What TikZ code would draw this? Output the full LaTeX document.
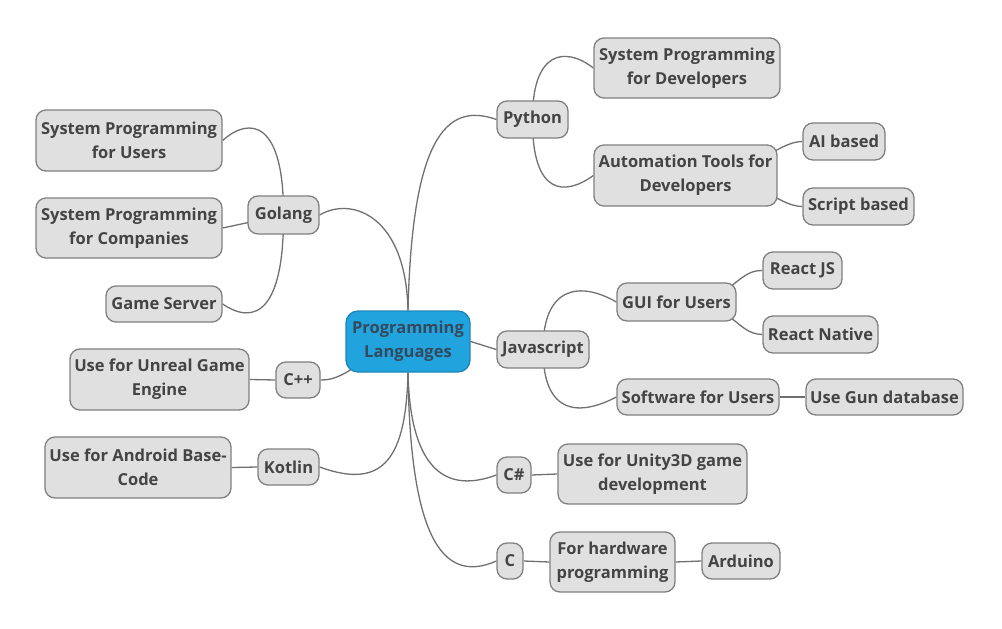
\documentclass[tikz,border=0pt]{standalone}
\usepackage{fontspec}
\setmainfont{Open Sans}
\usetikzlibrary{positioning}
\definecolor{boxfill}{HTML}{E0E0E0}
\definecolor{boxdraw}{HTML}{808080}
\definecolor{txt}{HTML}{444444}
\definecolor{linecol}{HTML}{707070}
\definecolor{mainfill}{HTML}{21A4DD}
\definecolor{maindraw}{HTML}{1F85B8}
\definecolor{maintxt}{HTML}{34495E}
\pgfdeclarelayer{bg}
\pgfsetlayers{bg,main}
\tikzset{
  topic/.style={draw=boxdraw, fill=boxfill, rounded corners=10pt, line width=1.3pt,
    font=\fontsize{16.5}{24}\selectfont\bfseries, text=txt, align=center,
    inner sep=0pt, minimum height=37pt},
  root/.style={topic, draw=maindraw, fill=mainfill, text=maintxt, rounded corners=12pt},
  conn/.style={draw=linecol, line width=1.3pt}
}
\begin{document}
\begin{tikzpicture}[x=1pt,y=-1pt]
\useasboundingbox (0,0) rectangle (1002,629);
% root
\node[root, minimum width=124pt, minimum height=61pt] (center) at (408,341.5) {Programming\\Languages};
% right side
\node[topic, minimum width=71pt] (python) at (532.5,119.5) {Python};
\node[topic, minimum width=186pt, minimum height=60pt] (sysdev) at (687,68) {System Programming\\for Developers};
\node[topic, minimum width=183pt, minimum height=61pt] (autom) at (685.5,175.5) {Automation Tools for\\Developers};
\node[topic, minimum width=82pt] (ai) at (844,141.5) {AI based};
\node[topic, minimum width=111pt] (script) at (858.5,206.5) {Script based};
\node[topic, minimum width=92pt] (js) at (543,349.5) {Javascript};
\node[topic, minimum width=119pt, minimum height=38pt] (gui) at (676.5,302) {GUI for Users};
\node[topic, minimum width=79pt] (reactjs) at (802.5,270.5) {React JS};
\node[topic, minimum width=115pt] (reactnative) at (820.5,334.5) {React Native};
\node[topic, minimum width=162pt, minimum height=36pt] (software) at (698,397) {Software for Users};
\node[topic, minimum width=157pt, minimum height=36pt] (gun) at (884.5,397) {Use Gun database};
\node[topic, minimum width=34pt, minimum height=36pt] (csharp) at (514,475) {C\#};
\node[topic, minimum width=189pt, minimum height=60pt] (unity) at (652.5,474) {Use for Unity3D game\\development};
\node[topic, minimum width=26pt, minimum height=36pt] (c) at (510,561) {C};
\node[topic, minimum width=125pt, minimum height=60pt] (hardware) at (612.5,562) {For hardware\\programming};
\node[topic, minimum width=78pt, minimum height=36pt] (arduino) at (741,561) {Arduino};
% left side
\node[topic, minimum width=71pt, minimum height=38pt] (golang) at (283.5,215) {Golang};
\node[topic, minimum width=186pt, minimum height=61pt] (sysusers) at (129,140.5) {System Programming\\for Users};
\node[topic, minimum width=186pt, minimum height=60pt] (syscomp) at (129,228) {System Programming\\for Companies};
\node[topic, minimum width=116pt, minimum height=36pt] (gameserver) at (164,304) {Game Server};
\node[topic, minimum width=44pt, minimum height=36pt] (cpp) at (298,380) {C++};
\node[topic, minimum width=179pt, minimum height=61pt] (unreal) at (159.5,379.5) {Use for Unreal Game\\Engine};
\node[topic, minimum width=61pt, minimum height=36pt] (kotlin) at (288.5,467) {Kotlin};
\node[topic, minimum width=186pt, minimum height=61pt] (android) at (138,467.5) {Use for Android Base-\\Code};
% connectors
\begin{pgfonlayer}{bg}
\draw[conn] (center.north) .. controls (412,141) and (445,101) .. (python.west);
\draw[conn] (center.north) .. controls (406,216) and (352,196) .. (golang.east);
\draw[conn] (center.east) -- (js.west);
\draw[conn] (center.south) .. controls (410,461) and (440,496) .. (csharp.west);
\draw[conn] (center.south) .. controls (410,531) and (440,586) .. (c.west);
\draw[conn] (center.south) .. controls (406,456) and (385,491) .. (kotlin.east);
\draw[conn] (center.center) .. controls (370,346) and (350,381) .. (cpp.east);
% python
\draw[conn] (python.center) .. controls (532,51) and (565,46) .. (sysdev.west);
\draw[conn] (python.center) .. controls (532,196) and (565,196) .. (autom.west);
\draw[conn] (autom.center) .. controls (760,174) and (775,142) .. (ai.west);
\draw[conn] (autom.center) .. controls (760,174) and (775,206) .. (script.west);
% javascript
\draw[conn] (js.center) .. controls (543,286) and (580,281) .. (gui.west);
\draw[conn] (js.center) .. controls (543,416) and (580,416) .. (software.west);
\draw[conn] (gui.center) .. controls (735,302) and (735,270) .. (reactjs.west);
\draw[conn] (gui.center) .. controls (735,302) and (735,334) .. (reactnative.west);
\draw[conn] (software.east) -- (gun.west);
\draw[conn] (csharp.east) -- (unity.west);
\draw[conn] (c.east) -- (hardware.west);
\draw[conn] (hardware.east) -- (arduino.west);
% golang
\draw[conn] (golang.center) .. controls (284,121) and (250,116) .. (sysusers.east);
\draw[conn] (golang.center) -- (syscomp.east);
\draw[conn] (golang.center) .. controls (284,311) and (255,326) .. (gameserver.east);
\draw[conn] (cpp.west) -- (unreal.east);
\draw[conn] (kotlin.west) -- (android.east);
\end{pgfonlayer}
\end{tikzpicture}
\end{document}
